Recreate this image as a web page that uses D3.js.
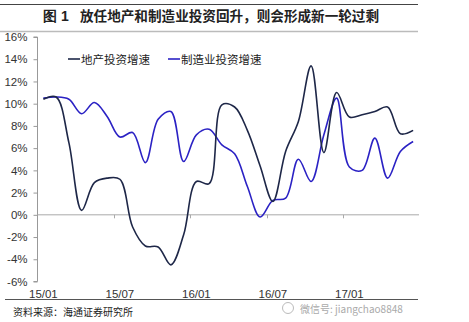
<!DOCTYPE html>
<html><head><meta charset="utf-8">
<script src="https://cdn.jsdelivr.net/npm/d3@7"></script>
<style>body{margin:0;background:#fff}svg{display:block}</style>
</head><body>
<svg id="c" width="469" height="322"></svg>
<script>
const months = ["15/01","15/02","15/03","15/04","15/05","15/06","15/07","15/08","15/09","15/10","15/11","15/12",
"16/01","16/02","16/03","16/04","16/05","16/06","16/07","16/08","16/09","16/10","16/11","16/12",
"17/01","17/02","17/03","17/04","17/05","17/06"];
const realEstate = [10.4,10.6,6.5,0.4,2.9,3.3,3.2,-1.1,-2.8,-2.9,-4.5,-1.8,3.0,2.8,9.9,9.7,7.6,4.4,1.2,5.7,8.4,13.4,5.6,11.0,8.8,9.0,9.3,9.7,7.3,7.6];
const manufacturing = [10.5,10.6,10.4,9.1,10.1,8.85,7.0,7.4,4.7,8.6,9.3,4.8,7.2,7.7,6.3,5.5,2.55,-0.2,1.3,1.5,5.0,3.0,7.2,10.5,4.3,4.0,6.9,3.3,5.7,6.6];
const yTicks = [-6,-4,-2,0,2,4,6,8,10,12,14,16];
const xLabelMonths = ["15/01","15/07","16/01","16/07","17/01"];
const seriesNames = ["地产投资增速","制造业投资增速"];
const titleNum = "图 1";
const titleText = "放任地产和制造业投资回升，则会形成新一轮过剩";
const sourceText = "资料来源：海通证券研究所";
const watermark = "微信号: jiangchao8848";

const svg = d3.select("#c");
const cjk = "'Noto Sans CJK SC', sans-serif";
const lat = "'Liberation Sans', Arial, sans-serif";

// header lines and title
svg.append("line").attr("x1",0).attr("x2",418).attr("y1",4.5).attr("y2",4.5).attr("stroke","#444").attr("stroke-width",1);
svg.append("line").attr("x1",0).attr("x2",418).attr("y1",31.5).attr("y2",31.5).attr("stroke","#bbb").attr("stroke-width",1.5);
svg.append("text").attr("x",43).attr("y",21).attr("font-family",lat).attr("font-weight","bold").attr("font-size",14).attr("fill","#222").text(titleNum);
svg.append("text").attr("x",80).attr("y",21).attr("font-family",cjk).attr("font-weight","bold").attr("font-size",13.6).attr("fill","#222").text(titleText);

const x = d3.scaleBand().domain(months).range([37, 419.5]);
const cx = m => x(m) + x.bandwidth()/2;
const y = d3.scaleLinear().domain([-6,16]).range([281.5, 37]);

// y axis
const yAxis = d3.axisLeft(y).tickValues(yTicks).tickSize(4).tickFormat(d => d + "%");
const gy = svg.append("g").attr("transform","translate(37.5,0)").call(yAxis);
gy.select(".domain").attr("stroke","#999").attr("d","M-4,"+y(16)+"H0V"+y(-6)+"H-4");
gy.selectAll(".tick line").attr("stroke","#999");
gy.selectAll(".tick text").attr("font-family",lat).attr("font-size",11.5).attr("fill","#333").attr("x",-10);

// zero line with ticks
svg.append("line").attr("x1",37.5).attr("x2",419).attr("y1",y(0)).attr("y2",y(0)).attr("stroke","#aaa").attr("stroke-width",1);
svg.selectAll("line.xt").data(xLabelMonths.slice(1)).enter().append("line")
  .attr("x1",d=>Math.round(x(d))+0.5).attr("x2",d=>Math.round(x(d))+0.5)
  .attr("y1",y(0)).attr("y2",y(0)+3.5).attr("stroke","#aaa");

// x labels
svg.selectAll("text.xl").data(xLabelMonths).enter().append("text")
  .attr("x",d=>cx(d)).attr("y",298).attr("text-anchor","middle")
  .attr("font-family",lat).attr("font-size",11.5).attr("fill","#333").text(d=>d);

// bottom line & source
svg.append("line").attr("x1",5).attr("x2",418).attr("y1",299.5).attr("y2",299.5).attr("stroke","#555").attr("stroke-width",1);
svg.append("text").attr("x",13).attr("y",316).attr("font-family",cjk).attr("font-size",10).attr("fill","#222").text(sourceText);

// watermark
svg.append("circle").attr("cx",288).attr("cy",308).attr("r",5.5).attr("fill","none").attr("stroke","#bbb");
svg.append("text").attr("x",300).attr("y",313).attr("font-family",cjk).attr("font-size",10).attr("fill","#aaa").text(watermark);

// lines
const line = d3.line().x((d,i)=>cx(months[i])).y(d=>y(d)).curve(d3.curveCatmullRom.alpha(0.5));
const colors = ["#1e2748","#2b22c4"];
[manufacturing, realEstate].forEach((s,k)=>{
  svg.append("path").attr("d",line(s)).attr("fill","none")
    .attr("stroke", k===0?colors[1]:colors[0]).attr("stroke-width",1.6);
});

// legend
const leg = [{x:68,name:seriesNames[0],c:colors[0]},{x:168,name:seriesNames[1],c:colors[1]}];
leg.forEach(l=>{
  svg.append("line").attr("x1",l.x).attr("x2",l.x+12).attr("y1",59).attr("y2",59).attr("stroke",l.c).attr("stroke-width",1.6);
  svg.append("text").attr("x",l.x+13).attr("y",63.5).attr("font-family",cjk).attr("font-size",11.5).attr("fill","#222").text(l.name);
});
</script>
</body></html>
